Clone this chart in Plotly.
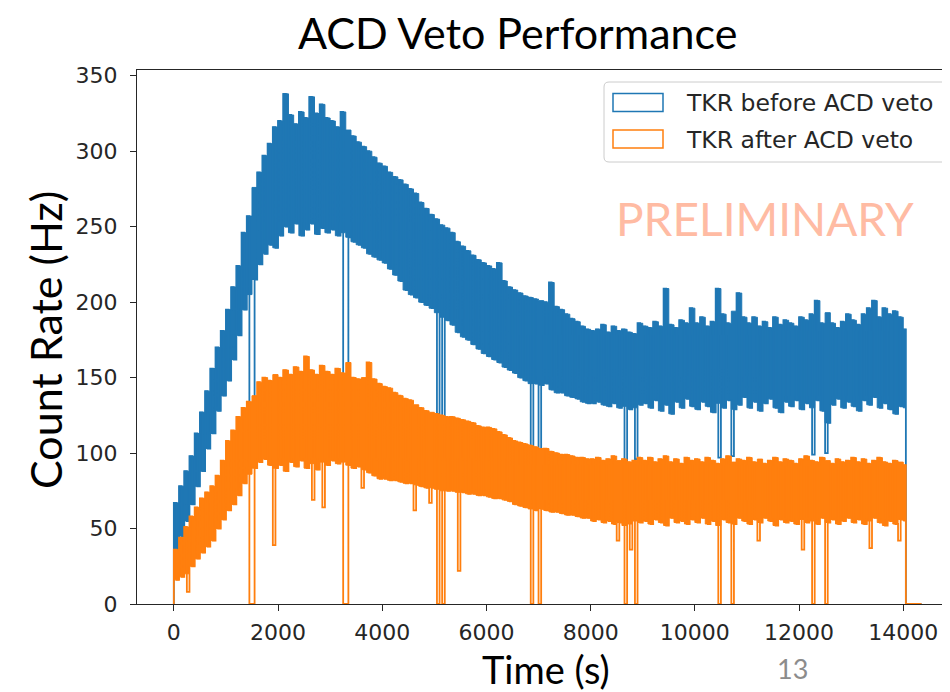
import plotly.graph_objects as go

# ---------------- data ----------------
# envelope values for each 100 s bin, t = 0 ... 14000 s
time_s = list(range(0, 14001, 100))

blue_upper = [
    67, 78, 88, 98, 113, 127, 141, 156, 170, 181,
    195, 210, 224, 246, 257, 276, 286, 297, 305, 316,
    320, 338, 324, 318, 326, 322, 336, 325, 331, 322,
    320, 316, 326, 314, 310, 306, 303, 300, 296, 292,
    290, 286, 283, 281, 278, 275, 272, 266, 262, 258,
    255, 251, 249, 246, 240, 237, 234, 231, 228, 226,
    224, 222, 226, 214, 210, 208, 206, 204, 203, 202,
    201, 200, 213, 197, 195, 192, 189, 187, 184, 182,
    181, 182, 185, 180, 184, 181, 182, 180, 179, 186,
    184, 183, 187, 184, 209, 185, 183, 188, 186, 196,
    186, 190, 184, 187, 209, 192, 186, 194, 206, 190,
    186, 190, 184, 187, 183, 190, 185, 188, 186, 184,
    190, 188, 192, 201, 186, 193, 186, 183, 187, 192,
    188, 185, 192, 196, 201, 190, 196, 192, 194, 190,
    182]

blue_lower = [
    35, 45, 55, 66, 78, 88, 103, 113, 128, 138,
    148, 162, 178, 195, 205, 215, 225, 232, 238, 236,
    244, 250, 246, 252, 244, 248, 252, 245, 249, 246,
    248, 244, 246, 243, 240, 238, 236, 232, 230, 228,
    226, 222, 218, 214, 208, 205, 203, 200, 198, 196,
    193, 190, 188, 185, 180, 177, 175, 172, 169, 166,
    164, 162, 160, 157, 155, 153, 150, 148, 146, 146,
    145, 146, 142, 140, 140, 138, 137, 136, 134, 133,
    133, 134, 132, 131, 133, 130, 131, 129, 130, 132,
    133, 130, 135, 128, 132, 126, 134, 130, 136, 131,
    129, 134, 131, 127, 133, 130, 135, 129, 132, 137,
    130, 134, 128, 133, 136, 130, 127, 134, 131, 135,
    129, 133, 130, 135, 128, 120, 132, 136, 130, 134,
    131, 128, 135, 132, 137, 130, 133, 129, 126, 131,
    130]

orange_upper = [
    36, 44, 51, 58, 64, 70, 74, 78, 85, 95,
    108, 115, 124, 130, 134, 138, 147, 150, 148, 152,
    150, 155, 152, 157, 154, 164, 155, 152, 158, 154,
    152, 156, 153, 160, 150, 149, 150, 160, 149, 146,
    144, 143, 140, 138, 136, 135, 132, 130, 128, 127,
    126, 125, 124, 124, 123, 122, 121, 120, 118, 117,
    117, 116, 114, 112, 110, 108, 107, 106, 105, 104,
    103, 103, 101, 100, 99, 99, 98, 97, 97, 96,
    96, 97, 95, 96, 98, 95, 96, 94, 95, 97,
    95, 97, 94, 96, 98, 94, 96, 93, 97, 95,
    96, 94, 97, 95, 93, 96, 98, 94, 96, 95,
    97, 94, 96, 93, 95, 97, 94, 96, 95, 93,
    96, 98, 95, 94, 97, 95, 93, 96, 94, 95,
    97, 94, 96, 93, 95, 97, 94, 93, 95, 94,
    92]

orange_lower = [
    16, 18, 20, 25, 30, 34, 38, 42, 50, 56,
    62, 66, 72, 80, 86, 90, 94, 96, 92, 90,
    92, 88, 94, 91, 95, 90, 93, 89, 94, 92,
    95, 93, 94, 92, 90, 91, 89, 87, 85, 83,
    83, 82, 82, 81, 80, 80, 79, 78, 77, 77,
    76, 75, 75, 75, 74, 74, 73, 73, 72, 72,
    71, 70, 70, 69, 68, 66, 65, 64, 63, 62,
    63, 62, 61, 61, 60, 59, 59, 58, 57, 57,
    55, 56, 54, 55, 53, 54, 52, 53, 55, 54,
    55, 53, 56, 54, 52, 57, 54, 55, 53, 56,
    54, 57, 53, 55, 52, 56, 54, 53, 57, 55,
    53, 56, 54, 57, 55, 52, 56, 54, 55, 53,
    56, 54, 55, 53, 57, 54, 56, 53, 55, 57,
    54, 56, 53, 55, 57, 54, 52, 55, 53, 56,
    55]

# veto dropouts (50 s sub-bins)
dip_times = [1450, 1500, 3250, 3300, 5050, 5150, 6850, 7000,
             8650, 8850, 10450, 10700, 12250, 12500]
dip_blue = [128, 130, 144, 142, 126, 124, 102, 100, 95, 96, 97, 98, 99, 100]
dip_orange = [0, 0, 0, 0, 0, 0, 0, 0, 0, 0, 0, 0, 0, 0]

# isolated low bins of the after-veto rate
spike_times = [250, 1900, 2650, 2850, 3600, 4600, 4900, 5450,
               8500, 8750, 11200, 12050, 13350, 13900]
spike_orange = [8, 39, 69, 64, 77, 62, 67, 22, 42, 36, 42, 36, 37, 42]

end_time = 14050
tail_end = 14350

x_ticks = [0, 2000, 4000, 6000, 8000, 10000, 12000, 14000]
x_tick_text = ["0", "2000", "4000", "6000", "8000", "10000", "12000", "14000"]
y_ticks = [0, 50, 100, 150, 200, 250, 300, 350]
y_tick_text = ["0", "50", "100", "150", "200", "250", "300", "350"]

BLUE = "#1f77b4"
ORANGE = "#ff7f0e"


def zigzag(upper, lower, overrides):
    xs, ys = [0], [0]
    for t, hi, lo in zip(time_s, upper, lower):
        for sub, val in ((t, hi), (t + 50, lo)):
            if sub >= end_time:
                continue
            xs.append(sub)
            ys.append(overrides.get(sub, val))
    xs += [end_time, tail_end]
    ys += [0, 0]
    return xs, ys


def band(values):
    xs = [t for t in time_s] + [end_time]
    ys = list(values) + [values[-1]]
    return xs, ys


blue_over = dict(zip(dip_times, dip_blue))
orange_over = dict(zip(spike_times, spike_orange))
orange_over.update(dict(zip(dip_times, dip_orange)))

fig = go.Figure()

for up, lo, over, col in ((blue_upper, blue_lower, blue_over, BLUE),
                          (orange_upper, orange_lower, orange_over, ORANGE)):
    bx, by = band(lo)
    fig.add_trace(go.Scatter(x=bx, y=by, mode="lines", line=dict(color=col, width=1, shape="hv"),
                             hoverinfo="skip"))
    ux, uy = band(up)
    fig.add_trace(go.Scatter(x=ux, y=uy, mode="lines", line=dict(color=col, width=1, shape="hv"),
                             fill="tonexty", fillcolor=col, hoverinfo="skip"))
    zx, zy = zigzag(up, lo, over)
    fig.add_trace(go.Scatter(x=zx, y=zy, mode="lines", line=dict(color=col, width=1.8, shape="hv"),
                             hoverinfo="skip"))

# ---------------- layout ----------------
# target plot-area edges in page pixels; the page body adds an 8 px offset
OFF = 8
L, R, T, B = 137, 950, 70, 604
W, H = R - L, B - T


def px(xp):
    return (xp - L) / W


def py(yp):
    return (B - yp) / H


AX = "#262626"
fig.update_layout(
    width=950, height=692,
    margin=dict(l=L - OFF, r=950 - (R - OFF), t=T - OFF, b=692 - (B - OFF), pad=0),
    paper_bgcolor="white", plot_bgcolor="white",
    showlegend=False,
    xaxis=dict(range=[-707, 14897], tickvals=x_ticks, ticktext=x_tick_text, ticks="outside",
               ticklen=6, tickwidth=1.2, tickcolor=AX, showline=True, linecolor=AX, linewidth=1.3,
               mirror=True, showgrid=False, zeroline=False, ticklabelstandoff=2, automargin=False,
               tickfont=dict(family="DejaVu Sans", size=22, color=AX)),
    yaxis=dict(range=[0, 353.8], tickvals=y_ticks, ticktext=y_tick_text, ticks="outside",
               ticklen=6, tickwidth=1.2, tickcolor=AX, showline=True, linecolor=AX, linewidth=1.3,
               mirror=False, showgrid=False, zeroline=False, ticklabelstandoff=8, automargin=False,
               tickfont=dict(family="DejaVu Sans", size=22, color=AX)),
)

ann = []
ann.append(dict(text="ACD Veto Performance", x=px(517.5), y=py(32), xref="paper", yref="paper",
                showarrow=False, xanchor="center", yanchor="middle",
                font=dict(family="Lato", size=43, color="black")))
ann.append(dict(text="Count Rate (Hz)", x=px(45), y=py(340), xref="paper", yref="paper",
                textangle=-90, showarrow=False, xanchor="center", yanchor="middle",
                font=dict(family="Lato", size=43, color="black")))
ann.append(dict(text="Time (s)", x=px(546), y=py(669), xref="paper", yref="paper",
                showarrow=False, xanchor="center", yanchor="middle",
                font=dict(family="Lato", size=38, color="black")))
ann.append(dict(text="13", x=px(792), y=py(668), xref="paper", yref="paper",
                showarrow=False, xanchor="center", yanchor="middle",
                font=dict(family="Lato", size=27, color="#8c8c8c")))
ann.append(dict(text="PRELIMINARY", x=px(765), y=py(218), xref="paper", yref="paper",
                showarrow=False, xanchor="center", yanchor="middle",
                font=dict(family="Lato", size=46, color="#FFBBA3")))
ann.append(dict(text="TKR before ACD veto", x=px(684), y=py(102.5), xref="paper", yref="paper",
                showarrow=False, xanchor="left", yanchor="middle",
                font=dict(family="DejaVu Sans", size=23.5, color=AX)))
ann.append(dict(text="TKR after ACD veto", x=px(684), y=py(139.5), xref="paper", yref="paper",
                showarrow=False, xanchor="left", yanchor="middle",
                font=dict(family="DejaVu Sans", size=23.5, color=AX)))
fig.update_layout(annotations=ann)

# legend frame and patches
x0, x1, y0, y1 = px(604), px(947), py(162), py(82)
rx, ry = 5 / W, 5 / H
path = (f"M {x0+rx},{y0} L {x1-rx},{y0} Q {x1},{y0} {x1},{y0+ry} L {x1},{y1-ry} "
        f"Q {x1},{y1} {x1-rx},{y1} L {x0+rx},{y1} Q {x0},{y1} {x0},{y1-ry} "
        f"L {x0},{y0+ry} Q {x0},{y0} {x0+rx},{y0} Z")
fig.add_shape(type="path", path=path, xref="paper", yref="paper",
              line=dict(color="#cccccc", width=1), fillcolor="rgba(255,255,255,0.8)")
fig.add_shape(type="rect", xref="paper", yref="paper", x0=px(613), x1=px(663), y0=py(111.5), y1=py(93.5),
              line=dict(color=BLUE, width=1.5), fillcolor="white")
fig.add_shape(type="rect", xref="paper", yref="paper", x0=px(613), x1=px(663), y0=py(148), y1=py(130),
              line=dict(color=ORANGE, width=1.5), fillcolor="white")

fig.write_html("out.html")
